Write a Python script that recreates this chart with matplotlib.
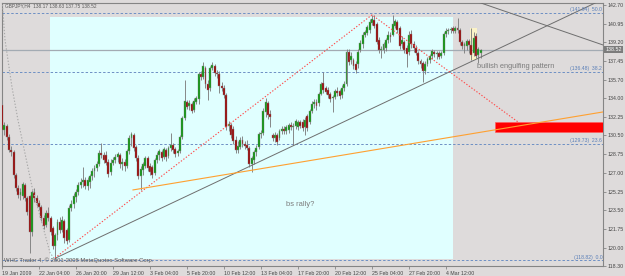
import matplotlib.pyplot as plt
from matplotlib.patches import Rectangle
from matplotlib.transforms import blended_transform_factory
import numpy as np

plt.rcParams['font.family'] = ['Liberation Sans', 'DejaVu Sans']

# GBPJPY H4, bar 0 = 19 Jan 2009 00:00, first visible bar = 3
first_bar = 3
opens = [133.36, 131.02, 131.39, 130.37, 129.15, 128.96, 126.81, 125.60, 124.95, 124.85,
         125.88, 124.66, 124.85, 121.49, 125.23, 124.66, 124.20, 123.82, 122.80, 122.14,
         123.26, 122.80, 121.86, 120.18, 121.21, 122.42, 121.67, 122.52, 121.67, 120.74,
         123.73, 124.10, 124.76, 125.23, 125.88, 126.16, 126.35, 125.79, 126.16, 126.72,
         127.19, 127.47, 127.84, 128.87, 128.68, 128.68, 128.03, 127.10, 127.94, 128.22,
         128.50, 128.68, 127.84, 128.03, 127.66, 129.06, 130.27, 130.55, 129.43, 128.40,
         126.72, 127.28, 127.66, 128.40, 127.66, 127.56, 127.00, 128.22, 128.68, 128.96,
         128.50, 129.15, 128.59, 129.34, 129.62, 129.24, 128.87, 129.06, 130.37, 132.14,
         133.64, 133.26, 133.45, 132.89, 133.64, 133.92, 136.25, 135.97, 136.81, 135.32,
         134.94, 136.81, 137.00, 136.35, 136.25, 135.13, 134.94, 134.29, 131.39, 131.49,
         131.11, 130.09, 129.15, 129.43, 130.09, 129.71, 129.62, 129.34, 127.84, 128.22,
         128.96, 129.43, 130.65, 130.74, 132.70, 133.54, 132.52, 130.55, 130.27, 130.55,
         130.27, 130.93, 131.11, 130.93, 131.02, 131.49, 131.30, 131.39, 131.30, 131.77,
         131.77, 131.30, 132.33, 131.77, 132.80, 133.45, 133.64, 133.54, 134.38, 135.41,
         134.94, 134.76, 134.38, 134.01, 134.10, 134.66, 134.66, 134.29, 134.94, 135.32,
         138.31, 137.56, 137.56, 137.19, 137.19, 138.50, 139.06, 139.90, 140.09, 140.37,
         141.02, 141.30, 140.93, 139.43, 138.50, 138.50, 138.68, 139.43, 139.90, 139.90,
         140.74, 141.11, 140.55, 139.06, 139.24, 138.68, 138.31, 139.99, 139.06, 138.68,
         138.22, 137.47, 137.28, 136.53, 137.19, 137.56, 137.94, 138.31, 138.12, 138.22,
         137.94, 138.22, 139.99, 140.27, 140.37, 140.55, 140.27, 140.55, 140.37, 139.24,
         138.87, 138.87, 139.34, 138.96, 138.22, 139.81, 138.03, 138.17]
highs = [133.54, 131.77, 131.58, 130.65, 129.52, 129.15, 127.00, 125.88, 125.60, 126.16,
         126.07, 124.85, 124.95, 125.41, 125.60, 124.95, 124.48, 124.01, 123.08, 123.54,
         123.82, 122.98, 122.05, 121.39, 122.70, 122.89, 122.98, 122.70, 121.86, 124.01,
         124.48, 125.13, 125.51, 126.16, 126.53, 127.56, 126.63, 126.63, 126.91, 127.47,
         127.75, 128.12, 129.15, 129.81, 128.96, 129.06, 128.31, 128.31, 128.50, 128.78,
         128.96, 128.87, 128.40, 128.31, 129.24, 130.55, 130.83, 130.74, 129.62, 128.68,
         127.66, 128.03, 128.59, 128.59, 127.94, 127.75, 128.40, 128.96, 129.24, 129.15,
         129.43, 129.34, 129.52, 130.74, 129.81, 129.43, 129.24, 130.55, 132.33, 135.69,
         133.82, 133.82, 133.64, 134.01, 134.20, 136.44, 136.53, 137.38, 137.00, 135.69,
         137.00, 137.38, 137.19, 136.63, 136.53, 135.51, 135.22, 134.48, 131.86, 131.67,
         131.39, 130.46, 129.99, 130.37, 130.46, 129.99, 130.09, 129.52, 128.59, 129.15,
         129.62, 130.83, 131.02, 133.08, 134.01, 133.73, 132.89, 130.74, 130.83, 130.74,
         131.11, 131.39, 131.39, 131.49, 131.67, 131.77, 131.67, 132.05, 131.95, 131.95,
         132.05, 132.24, 132.52, 132.98, 133.73, 133.92, 133.92, 134.57, 135.51, 136.44,
         135.13, 135.04, 134.57, 134.29, 134.85, 135.04, 134.85, 135.22, 135.60, 138.59,
         138.59, 138.31, 137.75, 137.47, 138.59, 139.43, 140.18, 140.37, 140.83, 141.39,
         141.77, 141.77, 141.11, 139.71, 138.87, 139.24, 139.62, 140.27, 140.18, 141.77,
         141.39, 141.30, 140.74, 139.81, 139.43, 138.96, 140.27, 140.37, 139.34, 138.96,
         138.40, 137.66, 137.47, 137.47, 137.84, 138.12, 138.59, 138.50, 138.40, 138.40,
         138.40, 140.18, 140.55, 140.55, 140.65, 140.74, 140.74, 141.49, 140.55, 139.43,
         139.24, 139.53, 139.53, 140.55, 140.18, 140.09, 138.78, 138.63]
lows = [130.74, 130.55, 130.09, 128.96, 128.59, 126.53, 125.32, 124.66, 124.48, 124.57,
        124.38, 123.08, 119.52, 121.11, 124.29, 123.92, 123.54, 122.52, 121.77, 121.95,
        122.52, 121.21, 119.90, 118.82, 120.74, 121.39, 121.49, 120.46, 120.37, 120.55,
        123.45, 123.73, 124.29, 124.95, 125.60, 125.69, 125.51, 125.41, 125.60, 126.35,
        126.63, 127.19, 127.66, 128.40, 127.94, 127.75, 126.63, 126.81, 127.75, 127.94,
        128.03, 127.47, 127.28, 127.19, 127.47, 128.78, 129.52, 129.06, 128.12, 126.44,
        125.41, 126.81, 127.47, 127.19, 126.81, 126.53, 126.81, 127.94, 128.22, 128.12,
        128.31, 128.12, 128.40, 129.06, 128.87, 128.50, 128.59, 128.87, 130.18, 131.95,
        132.98, 132.89, 132.61, 132.70, 133.45, 133.45, 135.69, 135.79, 134.94, 133.82,
        134.66, 136.63, 136.07, 135.88, 134.48, 134.66, 134.01, 131.02, 130.93, 130.27,
        129.71, 128.87, 128.87, 129.24, 129.43, 129.24, 129.15, 127.56, 127.10, 127.84,
        128.59, 129.24, 130.27, 130.55, 132.24, 132.05, 131.30, 129.99, 129.90, 129.62,
        130.09, 130.65, 130.65, 130.65, 130.74, 131.02, 129.62, 131.11, 131.02, 131.21,
        130.93, 130.55, 130.93, 131.58, 132.61, 133.08, 132.89, 133.26, 134.29, 134.48,
        134.38, 134.01, 133.64, 132.70, 133.92, 134.20, 133.92, 134.01, 134.66, 135.13,
        137.10, 137.19, 136.72, 136.35, 136.81, 138.31, 138.68, 139.71, 139.90, 140.09,
        140.83, 140.55, 139.06, 138.22, 137.75, 138.22, 138.40, 139.15, 139.24, 139.81,
        140.55, 140.09, 138.59, 138.68, 138.22, 136.91, 138.03, 138.68, 138.31, 138.03,
        137.19, 136.81, 135.51, 136.25, 137.00, 137.28, 137.66, 137.84, 137.66, 137.66,
        137.75, 138.03, 139.71, 139.99, 140.09, 140.09, 140.09, 140.09, 138.96, 138.59,
        138.22, 138.50, 138.22, 137.56, 137.94, 137.75, 137.28, 137.75]
closes = [131.02, 131.49, 130.37, 129.15, 128.96, 126.81, 125.60, 124.95, 125.23, 125.97,
          124.66, 123.36, 121.49, 125.23, 124.66, 124.20, 123.82, 122.80, 122.05, 123.26,
          122.80, 121.49, 120.18, 121.21, 122.42, 121.67, 122.61, 120.93, 120.65, 123.73,
          124.10, 124.85, 125.23, 125.88, 126.16, 126.35, 125.79, 126.35, 126.72, 127.19,
          127.47, 127.84, 128.87, 128.68, 128.22, 127.94, 126.91, 127.94, 128.22, 128.50,
          128.78, 127.84, 128.03, 127.66, 129.06, 130.27, 130.65, 129.34, 128.40, 126.72,
          127.38, 127.84, 128.40, 127.47, 127.10, 126.81, 128.22, 128.68, 129.06, 128.40,
          129.24, 128.50, 129.34, 129.62, 129.15, 128.78, 129.06, 130.37, 132.14, 133.73,
          133.17, 133.54, 132.80, 133.73, 134.01, 136.25, 135.97, 137.00, 135.32, 134.76,
          136.81, 137.10, 136.35, 136.25, 135.13, 134.94, 134.29, 131.30, 131.58, 130.55,
          129.99, 129.15, 129.52, 130.09, 129.71, 129.52, 129.34, 127.84, 128.40, 128.96,
          129.34, 130.65, 130.74, 132.80, 133.64, 132.42, 132.24, 130.27, 130.55, 129.90,
          130.93, 131.11, 130.93, 131.30, 131.49, 131.30, 131.39, 131.86, 131.77, 131.39,
          131.21, 131.95, 131.21, 132.80, 133.45, 133.64, 133.26, 134.38, 135.32, 134.76,
          134.57, 134.29, 133.92, 134.10, 134.66, 134.48, 134.20, 134.94, 135.32, 138.31,
          137.38, 137.94, 137.00, 136.63, 138.31, 139.15, 139.90, 140.18, 140.65, 141.11,
          141.39, 140.74, 139.24, 138.50, 138.59, 139.06, 139.43, 139.90, 139.71, 140.93,
          141.21, 140.37, 138.87, 139.43, 138.50, 138.12, 139.90, 139.06, 138.68, 138.22,
          137.47, 137.19, 136.53, 137.19, 137.66, 137.94, 138.40, 138.12, 138.22, 137.84,
          138.22, 139.99, 140.27, 140.37, 140.46, 140.27, 140.55, 140.37, 139.24, 138.87,
          139.06, 139.34, 138.96, 138.03, 139.62, 137.94, 138.59, 138.52]

time_pos = [3, 19, 35, 51, 67, 83, 99, 115, 131, 147, 163, 179, 195]
time_lbl = ["19 Jan 2009", "22 Jan 04:00", "26 Jan 20:00", "29 Jan 12:00", "3 Feb 04:00",
            "5 Feb 20:00", "10 Feb 12:00", "13 Feb 04:00", "17 Feb 20:00", "20 Feb 12:00",
            "25 Feb 04:00", "27 Feb 20:00", "4 Mar 12:00"]
price_ticks = [142.70, 140.95, 139.20, 137.45, 135.70, 134.00, 132.25, 130.50,
               128.75, 127.00, 125.25, 123.50, 121.75, 120.00, 118.30]
fib_levels = [141.94, 136.48, 129.73, 118.82]
fib_names = ["50.0", "38.2", "23.6", "0.0"]
last_price = 138.52

# drawing objects (bar index, price)
cyan_box = [23.8, 118.96, 198.0, 141.58]
red_box = [216.2, 130.83, 270.0, 131.77]
yellow_box = [205.4, 137.56, 208.4, 140.55]
trend_x, trend_y = [26.35, 201.05], [119.06, 136.91]
down_x, down_y = [208.8, 262.9], [142.98, 138.96]
orange_x, orange_y = [59.65, 262.9], [125.41, 132.70]
zig_x, zig_y = [25.9, 163.0, 226.1], [119.06, 141.77, 131.77]
arc_x = [3.2, 4.3, 7.3, 9.9, 16.0, 23.8, 25.6]
arc_y = [142.70, 139.43, 135.04, 131.95, 125.69, 119.52, 119.0]

x_min, x_max = 3.0, 262.9
y_min, y_max = 118.31, 142.93

bg = '#dedbdb'
fig = plt.figure(figsize=(6.25, 2.76), dpi=100, facecolor=bg)
ax = fig.add_axes([2 / 625, 10 / 276, 601 / 625, 263.5 / 276])
ax.set_facecolor(bg)
ax.set_xlim(x_min, x_max)
ax.set_ylim(y_min, y_max)

ax.add_patch(Rectangle((cyan_box[0], cyan_box[1]), cyan_box[2] - cyan_box[0],
                       cyan_box[3] - cyan_box[1], facecolor='#e0ffff', edgecolor='none', zorder=0))
ax.add_patch(Rectangle((yellow_box[0], yellow_box[1]), yellow_box[2] - yellow_box[0],
                       yellow_box[3] - yellow_box[1], facecolor='#fbf3c8', edgecolor='none', zorder=0.5))

for lv, nm in zip(fib_levels, fib_names):
    ax.axhline(lv, color='#6d8fc4', lw=0.7, ls=(0, (2.5, 2)), zorder=1)
    ax.text(x_max - 0.3, lv + 0.08, "(%.2f)  %s" % (lv, nm), ha='right', va='bottom',
            fontsize=3.7, color='#5a7fb8', zorder=5)

ax.axhline(last_price, color='#a3abb3', lw=0.9, zorder=1)

# candles
bars = np.arange(first_bar, first_bar + len(closes))
o = np.array(opens)
c = np.array(closes)
ax.vlines(bars, lows, highs, color='#808080', lw=0.65, zorder=2)
body_lo = np.minimum(o, c)
body_h = np.maximum(np.abs(c - o), 0.03)
cols = np.where(c >= o, '#08960a', '#9a0000')
ax.bar(bars, body_h, bottom=body_lo, width=0.82, color=cols, edgecolor='#8a8a8a',
       linewidth=0.3, zorder=3)

# trend lines and objects
slope = (trend_y[1] - trend_y[0]) / (trend_x[1] - trend_x[0])
ax.plot([trend_x[0], x_max], [trend_y[0], trend_y[0] + slope * (x_max - trend_x[0])],
        color='#6e6e6e', lw=0.7, zorder=4)
ax.plot(down_x, down_y, color='#6e6e6e', lw=0.7, zorder=4)
ax.add_patch(Rectangle((red_box[0], red_box[1]), red_box[2] - red_box[0],
                       red_box[3] - red_box[1], facecolor='#ff0000', edgecolor='#ff6060',
                       lw=0.5, zorder=4))
ax.plot(orange_x, orange_y, color='#ffa030', lw=0.8, zorder=5)
ax.plot(zig_x, zig_y, color='#ff4a4a', lw=0.8, ls=(0, (1.2, 1.6)), zorder=4)
ax.plot(arc_x, arc_y, color='#a8a8a8', lw=0.8, ls=(0, (1.2, 1.6)), zorder=4)

ax.text(208.4, 136.91, "bullish engulfing pattern", fontsize=5.3, color='#7c7c7c',
        va='center', ha='left', zorder=6)
ax.text(125.8, 124.01, "bs rally?", fontsize=5.4, color='#7c7c7c',
        va='center', ha='left', zorder=6)
ax.text(0.005, 0.987, "GBPJPY,H4  138.17 138.63 137.75 138.52", transform=ax.transAxes,
        fontsize=3.4, color='#585858', va='center', ha='left', zorder=6)
ax.text(0.004, 0.022, "WHC Trader 4, \u00a9 2001-2008 MetaQuotes Software Corp.",
        transform=ax.transAxes, fontsize=4.2, color='#585858', va='center', ha='left', zorder=6)

# axes
for s in ax.spines.values():
    s.set_color('#858585')
    s.set_linewidth(0.8)
ax.yaxis.tick_right()
ax.set_yticks(price_ticks)
ax.set_yticklabels(["%.2f" % t for t in price_ticks])
ax.tick_params(axis='y', labelsize=3.8, colors='#858585', labelcolor='#454545',
               length=2, width=0.6, pad=1.5)
ax.set_xticks(time_pos)
ax.set_xticklabels(time_lbl)
for lb in ax.get_xticklabels():
    lb.set_horizontalalignment('left')
ax.tick_params(axis='x', labelsize=3.8, colors='#858585', labelcolor='#454545',
               length=2.5, width=0.6, pad=1)

tr = blended_transform_factory(ax.transAxes, ax.transData)
ax.text(1.004, last_price, "%.2f" % last_price, transform=tr, fontsize=3.8, color='white',
        va='center', ha='left', zorder=7,
        bbox=dict(boxstyle='square,pad=0.2', facecolor='#7c7c7c', edgecolor='none'))

fig.savefig('out.png', dpi=100, facecolor=bg)
